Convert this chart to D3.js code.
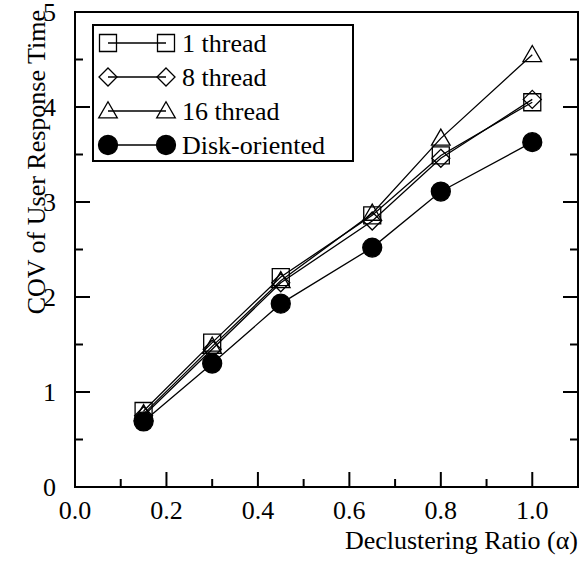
<!DOCTYPE html>
<html>
<head>
<meta charset="utf-8">
<script src="https://cdn.jsdelivr.net/npm/d3@7"></script>
<style>
html,body{margin:0;padding:0;background:#fff;}
svg{display:block;}
</style>
</head>
<body>
<svg id="chart" width="587" height="565"></svg>
<script>
const ratios = [0.15, 0.3, 0.45, 0.65, 0.8, 1.0];
const seriesNames = ["1 thread", "8 thread", "16 thread", "Disk-oriented"];
const thread1 = [0.80, 1.52, 2.21, 2.86, 3.49, 4.05];
const thread8 = [0.75, 1.45, 2.15, 2.80, 3.46, 4.08];
const thread16 = [0.77, 1.48, 2.17, 2.88, 3.67, 4.55];
const diskOriented = [0.69, 1.30, 1.93, 2.52, 3.11, 3.63];
const symbols = ["square", "diamond", "triangle", "circle"];
const xTicks = [0.0, 0.2, 0.4, 0.6, 0.8, 1.0];
const xMinorTicks = [0.1, 0.3, 0.5, 0.7, 0.9];
const yTicks = [0, 1, 2, 3, 4, 5];
const yMinorTicks = [0.5, 1.5, 2.5, 3.5, 4.5];
const xTitle = "Declustering Ratio (\u03B1)";
const yTitle = "COV of User Response Time";

const allSeries = [thread1, thread8, thread16, diskOriented];

const svg = d3.select("#chart");
const L = 75, R = 578, T = 12, B = 487;
const x = d3.scaleLinear().domain([0, 1.1]).range([L, R]);
const y = d3.scaleLinear().domain([0, 5]).range([B, T]);
const FS = 26;

function symbolPath(kind) {
  if (kind === "square") return d3.symbol().type(d3.symbolSquare).size(17*17)();
  if (kind === "diamond") return "M0,-9L9,0L0,9L-9,0Z";
  if (kind === "triangle") return d3.symbol().type(d3.symbolTriangle).size(150)();
  return d3.symbol().type(d3.symbolCircle).size(Math.PI*9.5*9.5)();
}

function txt(sel) {
  return sel.style("font-family", '"Liberation Serif"').attr("font-size", FS).attr("fill", "#000");
}

// frame
svg.append("rect").attr("x", L).attr("y", T).attr("width", R-L).attr("height", B-T)
  .attr("fill", "none").attr("stroke", "#000").attr("stroke-width", 2);

// x ticks (inward)
const gx = svg.append("g");
gx.selectAll("line.maj").data(xTicks).join("line")
  .attr("x1", d => x(d)).attr("x2", d => x(d)).attr("y1", B).attr("y2", B-15)
  .attr("stroke", "#000").attr("stroke-width", 2);
gx.selectAll("line.min").data(xMinorTicks).join("line")
  .attr("x1", d => x(d)).attr("x2", d => x(d)).attr("y1", B).attr("y2", B-8)
  .attr("stroke", "#000").attr("stroke-width", 2);
txt(gx.selectAll("text").data(xTicks).join("text"))
  .attr("x", d => x(d)).attr("y", 519).attr("text-anchor", "middle")
  .text(d => d.toFixed(1));

// y ticks both sides
const gy = svg.append("g");
[L, R].forEach((ax, i) => {
  const dir = i === 0 ? 1 : -1;
  gy.append("g").selectAll("line").data(yTicks).join("line")
    .attr("x1", ax).attr("x2", ax + dir*15).attr("y1", d => y(d)).attr("y2", d => y(d))
    .attr("stroke", "#000").attr("stroke-width", 2);
  gy.append("g").selectAll("line").data(yMinorTicks).join("line")
    .attr("x1", ax).attr("x2", ax + dir*8).attr("y1", d => y(d)).attr("y2", d => y(d))
    .attr("stroke", "#000").attr("stroke-width", 2);
});
txt(gy.selectAll("text").data(yTicks).join("text"))
  .attr("x", 56).attr("y", d => y(d) + 9).attr("text-anchor", "end")
  .text(d => d);

// titles
txt(svg.append("text")).attr("x", R).attr("y", 549).attr("text-anchor", "end")
  .text(xTitle);
txt(svg.append("text")).attr("transform", "translate(45,10) rotate(-90)")
  .attr("text-anchor", "end").text(yTitle);

// series
const line = d3.line().x((d, i) => x(ratios[i])).y(d => y(d));
allSeries.forEach((vals, si) => {
  const g = svg.append("g");
  g.append("path").attr("d", line(vals)).attr("fill", "none")
    .attr("stroke", "#000").attr("stroke-width", 1.3);
  g.selectAll("path.m").data(vals).join("path").attr("class", "m")
    .attr("transform", (d, i) => `translate(${x(ratios[i])},${y(d) + (symbols[si]==="triangle"?1.5:0)})`)
    .attr("d", symbolPath(symbols[si]))
    .attr("fill", symbols[si] === "circle" ? "#000" : "none")
    .attr("stroke", "#000").attr("stroke-width", 1.3);
});

// legend
const lg = svg.append("g");
lg.append("rect").attr("x", 93).attr("y", 25).attr("width", 260).attr("height", 136)
  .attr("fill", "#fff").attr("stroke", "#000").attr("stroke-width", 2);
seriesNames.forEach((name, i) => {
  const cy = 43 + i * 34;
  lg.append("line").attr("x1", 108).attr("x2", 166).attr("y1", cy).attr("y2", cy)
    .attr("stroke", "#000").attr("stroke-width", 1.3);
  [108, 166].forEach(cx => {
    lg.append("path").attr("transform", `translate(${cx},${cy + (symbols[i]==="triangle"?1.5:0)})`)
      .attr("d", symbolPath(symbols[i]))
      .attr("fill", symbols[i] === "circle" ? "#000" : "none")
      .attr("stroke", "#000").attr("stroke-width", 1.3);
  });
  txt(lg.append("text")).attr("x", 182).attr("y", cy + 9).text(name);
});
</script>
</body>
</html>
